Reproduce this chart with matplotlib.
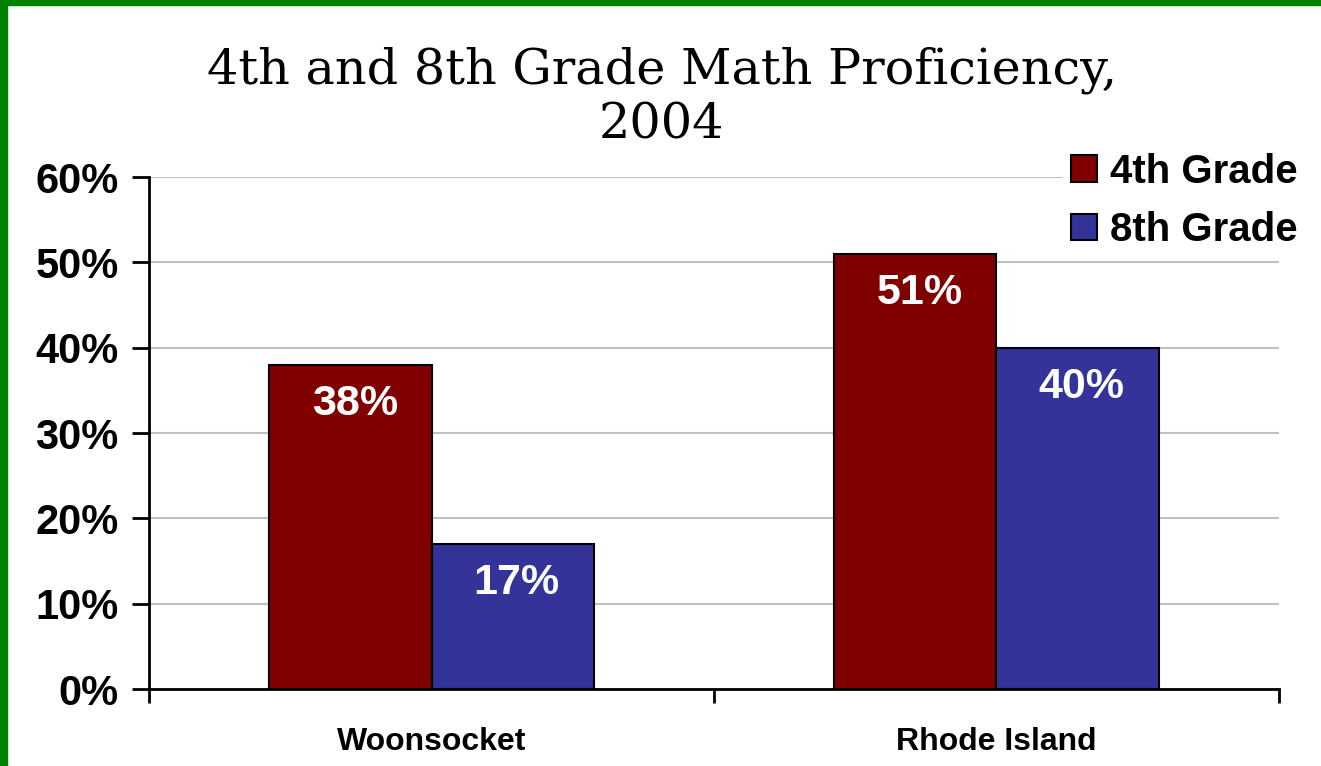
import numpy as np
import matplotlib.pyplot as plt
from matplotlib.patches import Rectangle
from matplotlib.ticker import PercentFormatter

# data
places = ['Woonsocket', 'Rhode Island']
grade4 = [0.38, 0.51]
grade8 = [0.17, 0.40]
series_names = ['4th Grade', '8th Grade']

col4 = '#800000'
col8 = '#333399'
sans = 'Liberation Sans'

fig = plt.figure(figsize=(13.21, 7.66), dpi=100)
ax = fig.add_axes([0.1128, 0.1005, 0.8554, 0.6684])

x = np.arange(len(places))
w = 0.287
b4 = ax.bar(x - w/2, grade4, w, color=col4, edgecolor='black', linewidth=1.5,
            label=series_names[0], zorder=3)
b8 = ax.bar(x + w/2, grade8, w, color=col8, edgecolor='black', linewidth=1.5,
            label=series_names[1], zorder=3)

for bars, vals in [(b4, grade4), (b8, grade8)]:
    for r, v in zip(bars, vals):
        ax.annotate('{:.0%}'.format(v), (r.get_x() + r.get_width()/2, v),
                    xytext=(3, -28), textcoords='offset points',
                    ha='center', va='center', color='white',
                    fontsize=31, fontweight='bold', family=sans, zorder=4)

ax.set_xlim(-0.5, 1.5)
ax.set_ylim(0, 0.6)
ax.set_yticks(np.arange(0, 0.61, 0.1))
ax.yaxis.set_major_formatter(PercentFormatter(1.0, decimals=0))
ax.grid(axis='y', color='#c0c0c0', linewidth=1.5, zorder=0)

ax.set_xticks(x)
ax.set_xticklabels(places, fontsize=23, fontweight='bold', family=sans)
ax.set_xticks([-0.5, 0.5, 1.5], minor=True)
ax.tick_params(axis='x', which='major', length=0, pad=27)
ax.tick_params(axis='x', which='minor', length=10, width=2, direction='out')
ax.tick_params(axis='y', length=12, width=2, direction='out', pad=10)
for lab in ax.get_yticklabels():
    lab.set_fontsize(30)
    lab.set_fontweight('bold')
    lab.set_family(sans)

for s in ['top', 'right']:
    ax.spines[s].set_visible(False)
ax.spines['left'].set_linewidth(2)
ax.spines['bottom'].set_linewidth(2)
ax.spines['bottom'].set_zorder(5)

leg = ax.legend(loc='upper right', bbox_to_anchor=(1.041, 1.102), frameon=True,
                framealpha=1, edgecolor='white', fancybox=False,
                prop={'family': sans, 'weight': 'bold', 'size': 29},
                handlelength=0.65, handleheight=0.65, handletextpad=0.3,
                labelspacing=0.5, borderpad=0.2)
leg.set_zorder(6)

fig.text(0.501, 0.873, '4th and 8th Grade Math Proficiency,\n2004', ha='center',
         va='center', fontsize=35.5, family='DejaVu Serif', linespacing=1.2)

# green border on the top and left edges
fig.patches.append(Rectangle((0, 1 - 5/766), 1, 5/766, transform=fig.transFigure,
                             color='#008000', zorder=10))
fig.patches.append(Rectangle((0, 0), 7/1321, 1, transform=fig.transFigure,
                             color='#008000', zorder=10))

fig.savefig('out.png', dpi=100)
